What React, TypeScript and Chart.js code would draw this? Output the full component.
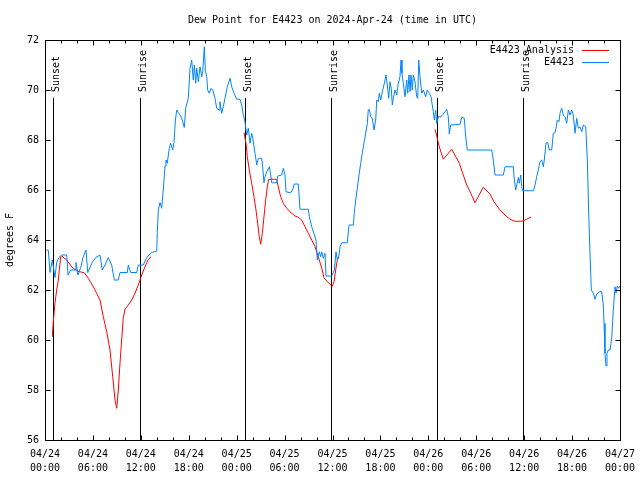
import React, { useEffect, useRef } from 'react';
import { Chart, registerables } from 'chart.js';

Chart.register(...registerables);

const TITLE = 'Dew Point for E4423 on 2024-Apr-24 (time in UTC)';
const Y_LABEL = 'degrees F';
const FONT_FAMILY = '"DejaVu Sans Mono", monospace';
const FONT = '10px ' + FONT_FAMILY;

const xTickDates = ['04/24', '04/24', '04/24', '04/24', '04/25', '04/25', '04/25', '04/25', '04/26', '04/26', '04/26', '04/26', '04/27'];
const xTickTimes = ['00:00', '06:00', '12:00', '18:00', '00:00', '06:00', '12:00', '18:00', '00:00', '06:00', '12:00', '18:00', '00:00'];
const yTicks = [56, 58, 60, 62, 64, 66, 68, 70, 72];

const sunHours = [1.04, 11.95, 25.06, 35.84, 49.12, 59.88];
const sunLabels = ['Sunset', 'Sunrise', 'Sunset', 'Sunrise', 'Sunset', 'Sunrise'];

const seriesNames = ['E4423 Analysis', 'E4423'];
const seriesColors = ['#ff0000', '#0084ff'];

// hours since 04/24 00:00 UTC
const obsHours = [
  0.15, 0.41, 0.63, 0.91, 1.25, 1.46, 1.75, 2.09, 2.72, 2.88, 3.22, 3.76, 3.88, 4.13, 4.47, 4.76, 5.13, 5.35, 5.63, 5.92,
  6.35, 6.89, 7.17, 7.51, 7.93, 8.35, 8.68, 9.18, 9.39, 10.31, 10.43, 10.73, 11.48, 11.68, 12.31, 12.73, 13.36, 13.99, 14.06, 14.19,
  14.40, 14.61, 14.81, 15.03, 15.15, 15.31, 15.56, 15.74, 15.99, 16.15, 16.32, 16.49, 16.69, 16.99, 17.19, 17.44, 17.62, 17.94, 18.16, 18.37,
  18.57, 18.70, 18.87, 19.00, 19.20, 19.41, 19.62, 19.75, 19.95, 20.07, 20.25, 20.37, 20.57, 20.79, 21.0, 21.29, 21.5, 21.79, 21.91, 22.13,
  22.33, 22.54, 22.83, 23.17, 23.38, 23.67, 24.0, 24.42, 24.63, 24.83, 25.04, 25.26, 25.46, 25.67, 25.88, 26.01, 26.3, 26.51, 26.71, 27.13,
  27.26, 27.42, 27.55, 27.76, 28.09, 28.26, 28.39, 29.01, 29.14, 29.64, 29.84, 30.05, 30.18, 30.77, 31.09, 31.22, 31.72, 31.93, 32.97, 33.1,
  33.4, 33.93, 34.1, 34.35, 34.52, 34.65, 34.85, 35.06, 35.19, 35.9, 36.23, 36.44, 36.6, 36.81, 36.94, 37.15, 37.85, 38.07, 38.61, 38.73,
  38.91, 39.11, 39.32, 39.53, 39.73, 39.94, 40.16, 40.36, 40.48, 40.61, 40.78, 40.98, 41.2, 41.41, 41.54, 41.74, 41.86, 42.04, 42.24, 42.49,
  42.7, 42.86, 43.04, 43.2, 43.36, 43.49, 43.61, 43.83, 44.04, 44.24, 44.45, 44.58, 44.7, 44.87, 45.08, 45.29, 45.42, 45.58, 45.71, 45.83,
  45.99, 46.12, 46.33, 46.54, 46.67, 46.8, 46.96, 47.17, 47.37, 47.67, 47.87, 48.12, 48.34, 48.46, 48.62, 48.75, 48.92, 49.05, 49.25, 49.59,
  50.09, 50.3, 50.5, 50.63, 50.8, 51.97, 52.18, 52.5, 52.68, 52.88, 55.94, 56.14, 56.35, 57.39, 57.6, 58.64, 58.77, 58.94, 59.07, 59.27,
  59.39, 59.57, 59.69, 59.82, 61.15, 61.36, 61.57, 61.77, 61.98, 62.2, 62.4, 62.52, 62.74, 62.95, 63.15, 63.45, 63.65, 63.86, 63.99, 64.15,
  64.36, 64.49, 64.7, 64.9, 65.11, 65.33, 65.53, 65.74, 65.95, 66.15, 66.37, 66.58, 66.78, 66.99, 67.21, 67.41, 67.71, 67.91, 68.08, 68.24,
  68.41, 68.66, 68.87, 69.08, 69.41, 69.71, 69.91, 70.0, 70.12, 70.25, 70.37, 70.54, 70.75, 70.96, 71.16, 71.38, 71.5, 71.66, 71.84, 72.0,
];
const obsValues = [
  63.6, 63.6, 62.7, 63.2, 62.5, 63.1, 63.3, 63.4, 63.4, 62.6, 62.8, 62.8, 63.1, 62.6, 62.9, 63.3, 63.6, 62.7, 62.9, 63.1,
  63.3, 63.4, 62.8, 63.0, 63.3, 63.0, 62.4, 62.4, 62.7, 62.7, 63.0, 62.7, 62.7, 63.0, 63.0, 63.3, 63.5, 63.55, 64.3, 65.2,
  65.5, 65.27, 66.0, 66.96, 67.2, 67.07, 67.67, 67.87, 67.6, 67.9, 68.76, 69.2, 69.1, 68.96, 68.8, 68.5, 69.27, 69.67, 70.87, 71.2,
  70.4, 71.0, 70.27, 70.87, 70.33, 70.93, 70.53, 70.73, 71.73, 70.8, 70.53, 70.0, 69.87, 70.07, 70.0, 69.67, 69.27, 69.2, 69.53, 69.07,
  69.33, 69.67, 70.13, 70.47, 70.13, 69.87, 69.63, 69.63, 69.4, 69.0, 68.73, 68.2, 68.47, 67.87, 68.27, 68.07, 67.47, 67.0, 67.27, 67.27,
  66.93, 66.29, 66.53, 66.73, 66.93, 66.6, 66.29, 66.29, 66.56, 66.6, 66.87, 66.6, 65.93, 65.89, 66.07, 66.24, 66.24, 65.23, 65.23, 64.93,
  64.53, 64.0, 63.2, 63.53, 63.33, 63.53, 63.27, 63.47, 62.56, 62.56, 62.8, 63.53, 63.2, 63.4, 63.73, 63.89, 63.89, 64.6, 64.6, 65.09,
  65.6, 66.07, 66.6, 67.07, 67.47, 67.87, 68.27, 68.67, 69.2, 69.23, 68.93, 68.87, 68.4, 68.8, 69.6, 69.53, 69.87, 69.6, 69.93, 70.27,
  70.6, 70.2, 69.67, 70.33, 70.07, 69.4, 69.67, 70.0, 69.8, 70.27, 70.53, 71.2, 70.67, 70.27, 69.73, 70.4, 69.87, 70.6, 69.93, 70.6,
  70.0, 70.6, 70.33, 69.73, 69.67, 71.2, 70.53, 69.87, 70.0, 69.73, 70.0, 69.87, 69.73, 69.47, 69.13, 68.8, 69.2, 68.67, 68.93, 68.93,
  69.13, 69.23, 68.93, 68.24, 68.6, 68.63, 68.91, 68.87, 68.13, 67.6, 67.6, 67.2, 66.6, 66.6, 66.93, 66.93, 66.4, 66.0, 66.2, 66.5,
  66.27, 66.6, 66.13, 65.97, 65.97, 66.2, 66.53, 66.8, 67.13, 67.2, 66.93, 67.2, 67.89, 67.89, 67.6, 67.6, 68.27, 68.29, 68.47, 68.8,
  68.73, 69.07, 69.27, 69.0, 68.93, 68.67, 69.2, 69.0, 69.2, 69.0, 68.27, 68.87, 68.47, 68.53, 68.33, 68.6, 68.53, 67.2, 65.07, 63.47,
  62.0, 61.87, 61.63, 61.84, 61.93, 61.93, 61.4, 60.67, 59.47, 58.96, 59.47, 59.6, 59.6, 60.07, 61.2, 62.13, 61.87, 62.16, 62.07, 62.16,
];

// analysis series, null marks a gap between runs
const anaHours = [
  0.91, 1.04, 1.25, 1.46, 1.67, 1.79, 1.97, 2.09, 2.72, 3.34, 3.97, 4.38, 4.92, 5.42, 6.05, 6.47, 6.89, 7.3, 7.73, 8.14,
  8.48, 8.77, 8.98, 9.18, 9.39, 9.6, 9.8, 10.02, 10.43, 10.86, 11.27, 11.68, 12.11, 12.52, 12.94, 13.27, 19.0,
  24.92, 25.17, 25.33, 25.58, 25.88, 26.17, 26.42, 26.63, 26.83, 27.01, 27.21, 27.42, 27.63, 27.84, 28.01, 29.01, 29.21, 29.51, 29.84,
  30.27, 30.68, 31.3, 31.72, 32.14, 32.56, 32.97, 33.4, 33.81, 34.22, 34.65, 34.94, 35.35, 35.69, 35.94, 36.19, 36.4, 36.6, 36.81, 42.0,
  48.83, 49.05, 49.37, 49.87, 50.93, 51.88, 52.3, 52.81, 53.31, 53.84, 54.88, 55.72, 56.22, 56.89, 57.6, 58.23, 58.85, 59.69, 60.32, 60.86,
];
const anaValues = [
  60.13, 60.73, 61.47, 62.0, 62.4, 62.8, 63.33, 63.36, 63.2, 62.93, 62.77, 62.73, 62.69, 62.47, 62.13, 61.87, 61.6, 60.93, 60.33, 59.6,
  58.53, 57.6, 57.27, 58.0, 59.07, 60.0, 60.87, 61.23, 61.4, 61.6, 61.87, 62.2, 62.6, 62.93, 63.23, 63.33, null,
  68.3, 67.87, 67.33, 66.8, 66.27, 65.73, 65.2, 64.67, 64.13, 63.83, 64.27, 64.93, 65.6, 66.13, 66.43, 66.43, 66.13, 65.73, 65.47,
  65.27, 65.13, 64.96, 64.91, 64.8, 64.53, 64.27, 64.0, 63.73, 63.33, 62.87, 62.49, 62.33, 62.24, 62.13, 62.33, 62.8, 63.2, 63.33, null,
  68.43, 68.16, 67.73, 67.23, 67.63, 67.07, 66.67, 66.2, 65.87, 65.49, 66.11, 65.84, 65.53, 65.23, 65.0, 64.83, 64.75, 64.75, 64.83, 64.92,
];

const decor = {
  id: 'decor',
  beforeDatasetsDraw(chart: any) {
    const { ctx, chartArea: a, scales } = chart;
    const x = scales.x;
    ctx.save();
    ctx.strokeStyle = '#000';
    ctx.fillStyle = '#000';
    ctx.lineWidth = 1;
    ctx.font = FONT;
    sunHours.forEach((h, i) => {
      const px = Math.round(x.getPixelForValue(h)) + 0.5;
      ctx.beginPath();
      ctx.moveTo(px, a.top + 58);
      ctx.lineTo(px, a.bottom);
      ctx.stroke();
      ctx.save();
      ctx.translate(px + 5, a.top + 52);
      ctx.rotate(-Math.PI / 2);
      ctx.textAlign = 'left';
      ctx.textBaseline = 'alphabetic';
      ctx.fillText(sunLabels[i], 0, 0);
      ctx.restore();
    });
    ctx.restore();
  },
  afterDatasetsDraw(chart: any) {
    const { ctx, chartArea: a, scales } = chart;
    const x = scales.x;
    const y = scales.y;
    ctx.save();
    ctx.strokeStyle = '#000';
    ctx.fillStyle = '#000';
    ctx.lineWidth = 1;
    const L = Math.round(a.left) + 0.5;
    const R = Math.round(a.right) + 0.5;
    const T = Math.round(a.top) + 0.5;
    const B = Math.round(a.bottom) + 0.5;
    ctx.strokeRect(L, T, R - L, B - T);
    ctx.beginPath();
    for (let h = 0; h <= 72; h += 2) {
      const px = Math.round(x.getPixelForValue(h)) + 0.5;
      const len = h % 6 === 0 ? 5 : 3;
      ctx.moveTo(px, B); ctx.lineTo(px, B - len);
      ctx.moveTo(px, T); ctx.lineTo(px, T + len);
    }
    yTicks.forEach((v) => {
      const py = Math.round(y.getPixelForValue(v)) + 0.5;
      ctx.moveTo(L, py); ctx.lineTo(L + 5, py);
      ctx.moveTo(R, py); ctx.lineTo(R - 5, py);
    });
    ctx.stroke();

    ctx.font = FONT;
    ctx.textAlign = 'center';
    ctx.textBaseline = 'middle';
    ctx.fillText(TITLE, (a.left + a.right) / 2, 20);

    ctx.save();
    ctx.translate(10, (a.top + a.bottom) / 2);
    ctx.rotate(-Math.PI / 2);
    ctx.fillText(Y_LABEL, 0, 0);
    ctx.restore();

    // legend
    seriesNames.forEach((name, row) => {
      const ly = a.top + 10 + row * 12;
      ctx.textAlign = 'right';
      ctx.textBaseline = 'middle';
      ctx.fillStyle = '#000';
      ctx.fillText(name, a.right - 46, ly);
      ctx.strokeStyle = seriesColors[row];
      ctx.beginPath();
      ctx.moveTo(a.right - 38, Math.round(ly) + 0.5);
      ctx.lineTo(a.right - 11, Math.round(ly) + 0.5);
      ctx.stroke();
    });
    ctx.restore();
  },
};

export default function App() {
  const ref = useRef<HTMLCanvasElement | null>(null);
  useEffect(() => {
    if (!ref.current) return;
    const anaData = anaHours.map((h, i) => ({ x: h, y: anaValues[i] }));
    const obsData = obsHours.map((h, i) => ({ x: h, y: obsValues[i] }));
    const chart = new Chart(ref.current, {
      type: 'line',
      data: {
        datasets: [
          {
            label: seriesNames[0],
            data: anaData as any,
            borderColor: seriesColors[0],
            borderWidth: 1,
            pointRadius: 0,
            tension: 0,
            spanGaps: false,
            order: 1,
          },
          {
            label: seriesNames[1],
            data: obsData as any,
            borderColor: seriesColors[1],
            borderWidth: 1,
            pointRadius: 0,
            tension: 0,
            order: 0,
          },
        ],
      },
      options: {
        animation: false,
        responsive: false,
        devicePixelRatio: 1,
        layout: { padding: { left: 8, right: 20, top: 40, bottom: 0 } },
        plugins: { legend: { display: false }, title: { display: false }, tooltip: { enabled: false } },
        events: [],
        scales: {
          x: {
            type: 'linear',
            min: 0,
            max: 72,
            grid: { display: false, drawTicks: false },
            border: { display: false },
            afterFit: (s: any) => { s.height = 40; s.paddingLeft = 0; s.paddingRight = 0; },
            ticks: {
              stepSize: 6,
              autoSkip: false,
              maxRotation: 0,
              minRotation: 0,
              padding: 7,
              color: '#000',
              font: { family: FONT_FAMILY, size: 10, lineHeight: 1.4 },
              callback: (v: any) => {
                const i = Math.round(Number(v) / 6);
                return [xTickDates[i], xTickTimes[i]];
              },
            },
          },
          y: {
            type: 'linear',
            min: yTicks[0],
            max: yTicks[yTicks.length - 1],
            grid: { display: false, drawTicks: false },
            border: { display: false },
            afterFit: (s: any) => { s.width = 37; s.paddingTop = 0; s.paddingBottom = 0; },
            ticks: {
              stepSize: 2,
              padding: 6,
              color: '#000',
              font: { family: FONT_FAMILY, size: 10 },
              callback: (v: any) => String(v),
            },
          },
        },
      },
      plugins: [decor],
    });
    return () => chart.destroy();
  }, []);
  return (
    <div style={{ position: 'absolute', left: 0, top: 0, width: 640, height: 480, background: '#fff' }}>
      <canvas ref={ref} width={640} height={480} style={{ display: 'block', width: 640, height: 480 }} />
    </div>
  );
}
